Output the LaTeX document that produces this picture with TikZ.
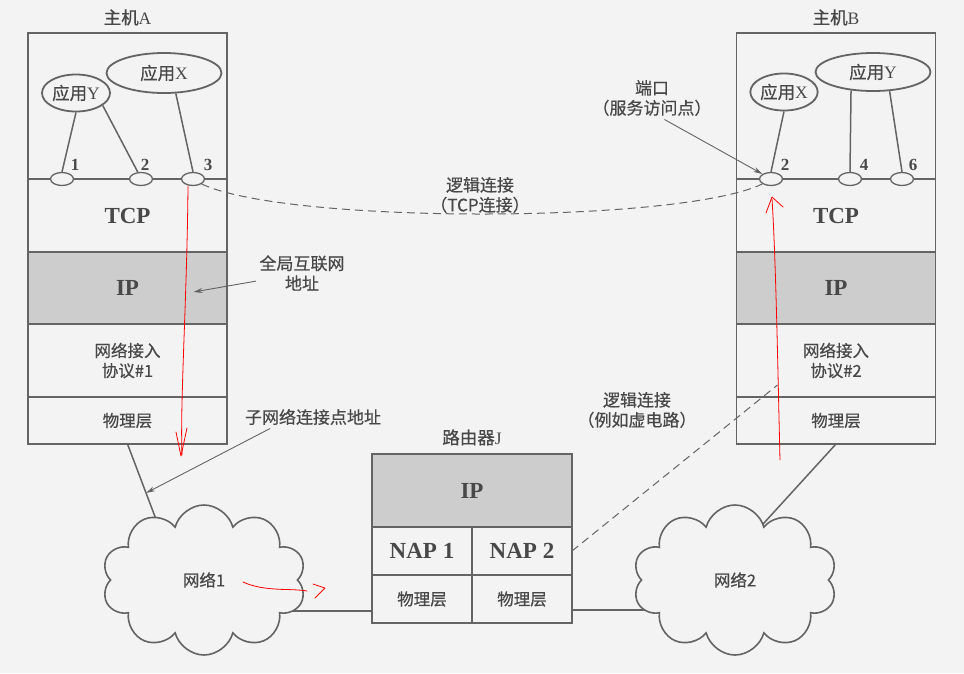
\documentclass[tikz,border=0pt]{standalone}
\usepackage{fontspec}
\setmainfont{Liberation Serif}
\newfontfamily\zhfont{Noto Sans CJK SC}[FakeBold=0.5]
\usetikzlibrary{shapes.geometric, shapes.symbols, arrows.meta, positioning, calc}
\newcommand{\zh}[1]{{\zhfont #1}}
\definecolor{papercolor}{RGB}{243, 243, 243}
\definecolor{inkcolor}{RGB}{72, 72, 72}
\definecolor{linecolor}{RGB}{100, 100, 100}
\definecolor{ipcolor}{RGB}{205, 205, 205}
\pgfdeclarelayer{paper}
\pgfdeclarelayer{wires}
\pgfsetlayers{paper,wires,main}

\begin{document}
\begin{tikzpicture}[
    x=1pt, y=-1pt,
    >={Stealth[length=9pt, width=5pt]},
    layer/.style={rectangle, draw=linecolor, line width=1.8pt, minimum width=199pt, minimum height=73pt, inner sep=0pt, outer sep=0pt, align=center, text=inkcolor, font=\zhfont\fontsize{16.5}{20}\selectfont},
    toplayer/.style={layer, minimum height=146pt},
    protolayer/.style={layer, font=\rmfamily\bfseries\fontsize{23}{26}\selectfont},
    iplayer/.style={protolayer, fill=ipcolor},
    naplayer/.style={protolayer, minimum width=100pt, minimum height=48pt},
    phylayer/.style={layer, minimum height=47pt},
    app/.style={ellipse, draw=linecolor, line width=1.8pt, fill=papercolor, inner sep=0pt, text=inkcolor, font=\rmfamily\fontsize{17.5}{20}\selectfont},
    port/.style={ellipse, draw=linecolor, line width=1.3pt, fill=papercolor, minimum width=23pt, minimum height=13pt, inner sep=0pt},
    portnum/.style={text=inkcolor, font=\rmfamily\bfseries\fontsize{17}{20}\selectfont},
    title/.style={text=inkcolor, font=\rmfamily\fontsize{17.5}{20}\selectfont},
    note/.style={align=center, text=inkcolor, font=\zhfont\fontsize{17}{20}\selectfont},
    netcloud/.style={cloud, cloud puffs=10, aspect=1.35, draw=linecolor, line width=1.6pt, fill=papercolor, minimum width=204pt, minimum height=150pt, text=inkcolor, font=\zhfont\fontsize{16.5}{20}\selectfont},
    wire/.style={draw=linecolor, line width=1.5pt},
    pointer/.style={->, draw=linecolor, line width=0.9pt, color=linecolor},
    logic/.style={draw=linecolor, line width=1pt, dash pattern=on 8pt off 5pt},
    scribble/.style={draw=red, line width=0.8pt, line cap=round, line join=round}
]
\begin{pgfonlayer}{paper}
\fill[papercolor] (0,0) rectangle (964,673);
\end{pgfonlayer}
\useasboundingbox (0,0) rectangle (964,673);

% ========== HOST A ==========
\node[toplayer] (topA) at (127.5,106) {};
\node[protolayer, below=0pt of topA] (tcpA) {TCP};
\node[iplayer, below=0pt of tcpA, minimum height=72pt] (ipA) {IP};
\node[layer, below=0pt of ipA] (naA) {网络接入\\协议\#1};
\node[phylayer, below=0pt of naA] (phyA) {物理层};
\node[title, above=4pt of topA] {\zh{主机}A};

\node[app, minimum width=68pt, minimum height=37pt] (appYA) at (76,93) {\zh{应用}Y};
\node[app, minimum width=115pt, minimum height=40pt] (appXA) at (164,73) {\zh{应用}X};

\node[port] (pA1) at (62,179) {};
\node[port] (pA2) at (141,179) {};
\node[port] (pA3) at (193,179) {};
\node[portnum] at ($(pA1)+(13,-14)$) {1};
\node[portnum] at ($(pA2)+(4,-14)$) {2};
\node[portnum] at ($(pA3)+(15,-14)$) {3};

\draw[wire] (appYA.south) -- (pA1.north);
\draw[wire] (appYA.335) -- (pA2.115);
\draw[wire] (appXA.300) -- (pA3.north);

% ========== HOST B ==========
\node[toplayer] (topB) at (836,106) {};
\node[protolayer, below=0pt of topB] (tcpB) {TCP};
\node[iplayer, below=0pt of tcpB, minimum height=72pt] (ipB) {IP};
\node[layer, below=0pt of ipB] (naB) {网络接入\\协议\#2};
\node[phylayer, below=0pt of naB] (phyB) {物理层};
\node[title, above=4pt of topB] {\zh{主机}B};

\node[app, minimum width=67pt, minimum height=37pt] (appXB) at (784,92) {\zh{应用}X};
\node[app, minimum width=115pt, minimum height=38pt] (appYB) at (873,72) {\zh{应用}Y};

\node[port] (pB2) at (771,179) {};
\node[port] (pB4) at (850,179) {};
\node[port] (pB6) at (902,179) {};
\node[portnum] at ($(pB2)+(14,-14)$) {2};
\node[portnum] at ($(pB4)+(14,-14)$) {4};
\node[portnum] at ($(pB6)+(11,-14)$) {6};

\draw[wire] (appXB.south) -- (pB2.north);
\draw[wire] (appYB.220) -- (pB4.north);
\draw[wire] (appYB.311) -- (pB6.north);

% ========== ROUTER J ==========
\node[iplayer, minimum width=200pt] (ipJ) at (472,490.5) {IP};
\node[naplayer, below=0pt of ipJ.south west, anchor=north west] (napJ1) {NAP 1};
\node[naplayer, right=0pt of napJ1] (napJ2) {NAP 2};
\node[layer, below=0pt of napJ1, minimum width=100pt, minimum height=48pt] (phyJ1) {物理层};
\node[layer, below=0pt of napJ2, minimum width=100pt, minimum height=48pt] (phyJ2) {物理层};
\node[title, above=5pt of ipJ] {\zh{路由器}J};

% ========== NETWORKS ==========
\node[netcloud] (net1) at (204,580) {网络1};
\node[netcloud] (net2) at (735,580) {网络2};

\coordinate (j1w) at ($(phyJ1.west)+(0,12)$);
\coordinate (j2e) at ($(phyJ2.east)+(0,11)$);
\begin{pgfonlayer}{wires}
\draw[wire] (phyA.south) -- coordinate[pos=0.36] (subA) ($(net1.center)+(-25,0)$);
\draw[wire] (phyB.south) -- ($(net2.center)+(-23,0)$);
\draw[wire] (j1w) -- (j1w -| net1.center);
\draw[wire] (j2e) -- (j2e -| net2.center);
\end{pgfonlayer}

% ========== LOGICAL CONNECTIONS ==========
\draw[logic] (pA3.-30) .. controls +(85,40) and +(-85,40) .. (pB2.210);
\node[note] (tcplbl) at (480,195) {逻辑连接\\（TCP连接）};

\coordinate (vcend) at ($(naB.south west)+(41,-12)$);
\draw[logic] (napJ2.east) -- (vcend);
\node[note] (vclbl) at (637,410) {逻辑连接\\（例如虚电路）};

% ========== ADDRESS LABELS ==========
\node[note] (portlbl) at (652,98) {端口\\（服务访问点）};
\draw[pointer] (portlbl.-60) -- (pB2.150);

\node[note] (gaddr) at (302,273) {全局互联网\\地址};
\coordinate (gaddrpt) at ($(ipA.center)+(66,4)$);
\draw[pointer] (gaddr.190) -- (gaddrpt);

\node[note] (subaddr) at (313,417) {子网络连接点地址};
\draw[pointer] ($(subaddr.south west)!0.2!(subaddr.south east)$) -- (subA);

% hand marks
\draw[scribble] (188,186) .. controls (187,300) and (180,400) .. (182,455);
\draw[scribble] (176,432) -- (181,456) -- (187,428);
\draw[scribble] (243,582) .. controls (265,592) and (290,588) .. (307,591);
\draw[scribble] (313,584) -- (325,588) -- (315,598);
\draw[scribble] (780,460) .. controls (778,380) and (776,260) .. (772,199);
\draw[scribble] (766,213) -- (772,197) -- (783,207);

\end{tikzpicture}
\end{document}
